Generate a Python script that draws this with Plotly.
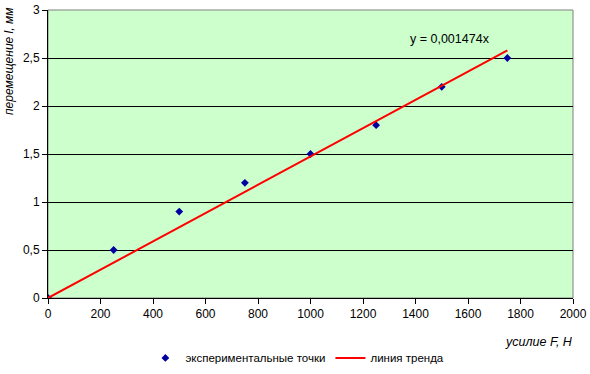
import plotly.graph_objects as go

force = [0, 250, 500, 750, 1000, 1250, 1500, 1750]
displacement = [0, 0.5, 0.9, 1.2, 1.5, 1.8, 2.2, 2.5]
slope = 0.001474
trend_x = [0, 1750]
trend_y = [slope * v for v in trend_x]

fig = go.Figure()
fig.add_trace(go.Scatter(x=force, y=displacement, mode="markers", name="экспериментальные точки",
                         marker=dict(symbol="diamond", color="#0000A0", size=6)))
fig.add_trace(go.Scatter(x=trend_x, y=trend_y, mode="lines", name="линия тренда",
                         line=dict(color="#FF0000", width=2)))

fig.update_layout(
    width=590, height=374,
    margin=dict(l=48, r=17, t=10, b=76, autoexpand=False),
    paper_bgcolor="white", plot_bgcolor="#CCFFCC",
    separators=", ",
    font=dict(family="Liberation Sans, Arial", size=12, color="black"),
    showlegend=True,
    legend=dict(orientation="h", x=0.475, xanchor="center", y=-0.208, yanchor="middle",
                traceorder="normal", font=dict(size=11.5), itemwidth=30,
                bgcolor="rgba(0,0,0,0)"),
    xaxis=dict(range=[0, 2000], dtick=200, showgrid=False, zeroline=False, automargin=False,
               showline=True, linecolor="black", linewidth=1,
               ticks="outside", ticklen=5, tickcolor="black", tickfont=dict(size=12)),
    yaxis=dict(range=[0, 3], dtick=0.5, showgrid=True, gridcolor="black", gridwidth=1,
               zeroline=False, showline=True, linecolor="black", linewidth=1, automargin=False,
               ticks="outside", ticklen=5, tickcolor="black", tickfont=dict(size=12)),
    shapes=[dict(type="rect", xref="paper", yref="paper", x0=0, x1=1, y0=0, y1=1,
                 line=dict(color="#808080", width=1), layer="below")],
    annotations=[
        dict(text="y = 0,001474x", x=1530, y=2.6, xref="x", yref="y",
             xanchor="center", yanchor="bottom", showarrow=False, font=dict(size=12.5)),
        dict(text="<i>усилие F, H</i>", x=1.004, y=-0.153, xref="paper", yref="paper",
             xanchor="right", yanchor="middle", showarrow=False, font=dict(size=12.5)),
        dict(text="<i>перемещение l, мм</i>", xref="paper", yref="paper",
             x=-0.074, y=0.82, textangle=-90, showarrow=False, xanchor="center", yanchor="middle"),
    ],
)
fig.write_html("out.html", config={"displayModeBar": False},
               post_script="document.body.style.margin='0';")
